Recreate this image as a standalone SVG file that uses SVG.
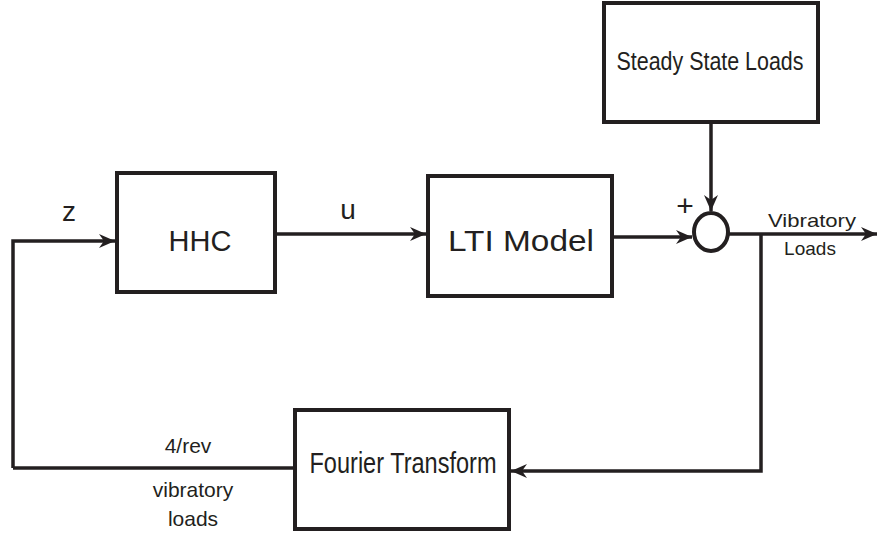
<svg xmlns="http://www.w3.org/2000/svg" width="878" height="533" viewBox="0 0 878 533">
<style>
.box{fill:#fff;stroke:#231f20;stroke-width:4}
.ln{fill:none;stroke:#231f20;stroke-width:3.5}
.t{font-family:"Liberation Sans",Arial,sans-serif;fill:#231f20;text-anchor:middle}
</style>
<defs>
<marker id="ah" markerUnits="userSpaceOnUse" markerWidth="18" markerHeight="16" refX="16" refY="8" orient="auto">
<path d="M0,1 L16,8 L0,15 L5,8 Z" fill="#231f20"/>
</marker>
</defs>
<rect width="878" height="533" fill="#fff"/>
<g id="connectors">
<path class="ln" d="M13,468 V241 H115" marker-end="url(#ah)"/>
<path class="ln" d="M275,234 H426" marker-end="url(#ah)"/>
<path class="ln" d="M612,237 H692" marker-end="url(#ah)"/>
<path class="ln" d="M711,124 V211" marker-end="url(#ah)"/>
<path class="ln" d="M728,234 H877" marker-end="url(#ah)"/>
<path class="ln" d="M761,234 V471 H511" marker-end="url(#ah)"/>
<path class="ln" d="M13,468 H295"/>
<text class="t" x="69" y="221" font-size="28">z</text>
<text class="t" x="348" y="219" font-size="28">u</text>
<text class="t" x="685" y="216" font-size="30" font-weight="normal">+</text>
<text class="t" x="812" y="227" font-size="19" textLength="88" lengthAdjust="spacingAndGlyphs">Vibratory</text>
<text class="t" x="810" y="255" font-size="19">Loads</text>
<text class="t" x="188" y="453" font-size="21">4/rev</text>
<text class="t" x="193" y="497" font-size="21">vibratory</text>
<text class="t" x="193" y="526" font-size="21">loads</text>
</g>
<g id="hhc">
<rect class="box" x="117" y="173" width="158" height="119"/>
<text class="t" x="200" y="251" font-size="29">HHC</text>
</g>
<g id="lti">
<rect class="box" x="428" y="176" width="184" height="120"/>
<text class="t" x="521" y="251" font-size="29" textLength="146" lengthAdjust="spacingAndGlyphs">LTI Model</text>
</g>
<g id="steady">
<rect class="box" x="604" y="3" width="214" height="119"/>
<text class="t" x="710" y="70" font-size="25" textLength="187" lengthAdjust="spacingAndGlyphs">Steady State Loads</text>
</g>
<g id="sum">
<ellipse cx="711" cy="232" rx="17" ry="19" fill="#fff" stroke="#231f20" stroke-width="4"/>
</g>
<g id="fourier">
<rect class="box" x="295" y="410" width="214" height="119"/>
<text class="t" x="403" y="473" font-size="29" textLength="187" lengthAdjust="spacingAndGlyphs">Fourier Transform</text>
</g>
</svg>
